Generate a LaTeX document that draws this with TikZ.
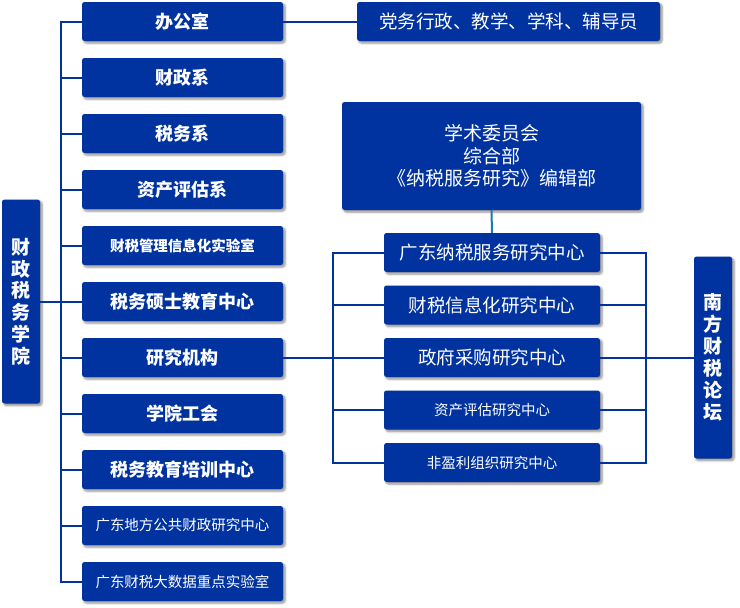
\documentclass[tikz,border=0pt]{standalone}
\usepackage{fontspec}
\setmainfont{Noto Sans CJK SC}
\usetikzlibrary{shadows.blur}
\definecolor{boxblue}{HTML}{0033A0}
\definecolor{tealline}{HTML}{1A7AB5}
\tikzset{
  box/.style={draw=none, fill=boxblue, text=white, rounded corners=2.5pt, inner sep=0pt,
    align=center, blur shadow={shadow xshift=2pt, shadow yshift=-2pt, shadow blur steps=6, shadow opacity=45}},
  lbox/.style={box, minimum width=201pt, minimum height=39pt},
  rbox/.style={box, minimum width=216pt, minimum height=39pt},
  big/.style={font=\bfseries\fontsize{18}{22}\selectfont},
  bigs/.style={font=\bfseries\fontsize{14.5}{18}\selectfont},
  reg/.style={font=\fontsize{18.5}{22.5}\selectfont},
  regs/.style={font=\fontsize{14.5}{18}\selectfont},
  conn/.style={draw=boxblue, line width=2pt},
}
\begin{document}
\begin{tikzpicture}[x=1pt,y=-1pt]
\useasboundingbox (0,0) rectangle (740,608);
% root
\node[box, minimum width=38pt, minimum height=204pt, font=\bfseries\fontsize{19}{21.8}\selectfont] (root) at (21,301.5) {财\\政\\税\\务\\学\\院};
% left column
\node[lbox, big]  (L1)  at (182.5,21.5)  {办公室};
\node[lbox, big]  (L2)  at (182.5,77.5)  {财政系};
\node[lbox, big]  (L3)  at (182.5,133.5) {税务系};
\node[lbox, big]  (L4)  at (182.5,189.5) {资产评估系};
\node[lbox, bigs] (L5)  at (182.5,245.5) {财税管理信息化实验室};
\node[lbox, big]  (L6)  at (182.5,301.5) {税务硕士教育中心};
\node[lbox, big]  (L7)  at (182.5,357.5) {研究机构};
\node[lbox, big]  (L8)  at (182.5,413.5) {学院工会};
\node[lbox, big]  (L9)  at (182.5,469.5) {税务教育培训中心};
\node[lbox, regs] (L10) at (182.5,525.5) {广东地方公共财政研究中心};
\node[lbox, regs] (L11) at (182.5,581.5) {广东财税大数据重点实验室};
% office detail
\node[box, reg, minimum width=303pt, minimum height=39pt] (OD) at (508.5,21.5) {党务行政、教学、学科、辅导员};
% big box
\node[box, font=\fontsize{19}{22.5}\selectfont, minimum width=299pt, minimum height=108pt] (BB) at (491.5,156) {学术委员会\\综合部\\《纳税服务研究》编辑部};
% research centers
\node[rbox, reg]  (R1) at (492,252.5) {广东纳税服务研究中心};
\node[rbox, reg]  (R2) at (492,305)   {财税信息化研究中心};
\node[rbox, reg]  (R3) at (492,357.5) {政府采购研究中心};
\node[rbox, regs] (R4) at (492,410)   {资产评估研究中心};
\node[rbox, regs] (R5) at (492,462.5) {非盈利组织研究中心};
% right box
\node[box, minimum width=38pt, minimum height=202pt, font=\bfseries\fontsize{19}{21.9}\selectfont] (RB) at (713,357.5) {南\\方\\财\\税\\论\\坛};
% coordinates
\coordinate (tr) at (61,301.5);
\coordinate (bl) at (333,357.5);
\coordinate (br) at (646,357.5);
% connectors
\draw[conn] (L1.west) -| (tr) |- (L11.west);
\foreach \i in {2,...,10} { \draw[conn] (L\i.west) -- (L\i.west -| tr); }
\draw[conn] (root.east) -- (tr);
\draw[conn] (L1.east) -- (OD.west);
\draw[conn] (L7.east) -- (R3.west);
\draw[conn] (R1.west) -| (bl) |- (R5.west);
\draw[conn] (R2.west) -- (R2.west -| bl);
\draw[conn] (R4.west) -- (R4.west -| bl);
\draw[conn] (R1.east) -| (br) |- (R5.east);
\draw[conn] (R2.east) -- (R2.east -| br);
\draw[conn] (R4.east) -- (R4.east -| br);
\draw[conn] (R3.east) -- (RB.west);
\draw[draw=tealline, line width=2pt] (BB.south) -- (R1.north);
\end{tikzpicture}
\end{document}
